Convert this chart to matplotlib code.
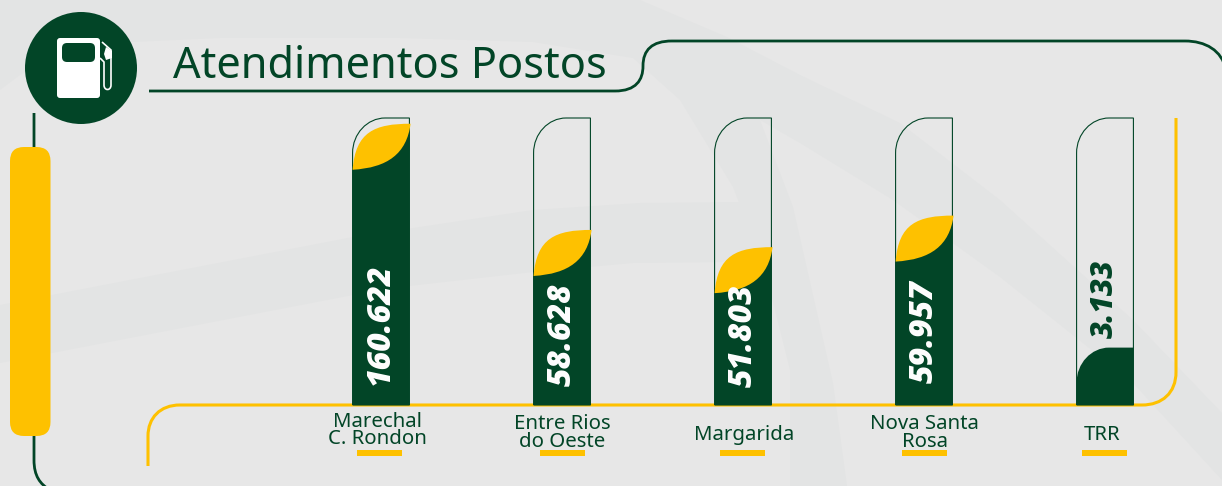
import matplotlib
matplotlib.use('Agg')
import matplotlib.pyplot as plt
from matplotlib.path import Path
from matplotlib.patches import PathPatch, Circle, FancyBboxPatch, Rectangle, Polygon

categories = ['Marechal\nC. Rondon', 'Entre Rios\ndo Oeste', 'Margarida', 'Nova Santa\nRosa', 'TRR']
value_labels = ['160.622', '58.628', '51.803', '59.957', '3.133']
# the tubes are not to scale in the original, so this is % of tube filled
fill_levels = [98, 61, 55, 66, 20]

GREEN = '#024527'
YELLOW = '#fec100'
BG = '#e7e7e7'
SHADE = '#e3e4e4'

M, L, C = Path.MOVETO, Path.LINETO, Path.CURVE4


def shape(ax, pts, codes, **kw):
    p = PathPatch(Path(pts, codes), **kw)
    ax.add_patch(p)
    return p


fig = plt.figure(figsize=(12.22, 4.86), dpi=100, facecolor=BG)

# full figure axes in pixels for the decoration
deco = fig.add_axes([0, 0, 1, 1])
deco.set_xlim(0, 1222)
deco.set_ylim(486, 0)
deco.axis('off')

# background swooshes
swoosh = [(0, 0), (0, 90), (20, 75), (50, 58), (110, 43), (220, 38), (400, 38), (533, 42), (633, 58),
          (680, 100), (733, 187), (765, 270), (790, 370), (790, 486), (847, 486), (833, 383), (793, 207),
          (760, 120), (800, 143), (893, 200), (1000, 277), (1133, 383), (1222, 480), (1222, 413),
          (1133, 320), (1000, 200), (900, 123), (800, 75), (727, 37), (640, 0)]
deco.add_patch(Polygon(swoosh, fc=SHADE, ec='none', zorder=0))
band = [(0, 305), (353, 237), (400, 230), (533, 210), (640, 203), (745, 202), (768, 262), (733, 262),
        (633, 263), (533, 272), (400, 287), (353, 295), (0, 363)]
deco.add_patch(Polygon(band, fc=SHADE, ec='none', zorder=0))

# frame lines
shape(deco, [(149, 91), (615, 91), (636, 91), (643, 80), (643, 66), (643, 50), (652, 41), (672, 41),
             (1185, 41), (1205, 41), (1222, 50), (1226, 70)],
      [M, L, C, C, C, C, C, C, L, C, C, C], fc='none', ec=GREEN, lw=2, zorder=1)
shape(deco, [(34, 113), (34, 460), (34, 476), (40, 484), (50, 490)],
      [M, L, C, C, C], fc='none', ec=GREEN, lw=2, zorder=1)
shape(deco, [(1176, 118), (1176, 372), (1176, 393), (1162, 405), (1142, 405), (180, 405),
             (160, 405), (148, 418), (148, 436), (148, 466)],
      [M, L, C, C, C, L, C, C, C, L], fc='none', ec=YELLOW, lw=2.2, zorder=1)
deco.add_patch(FancyBboxPatch((24, 161), 12.5, 261, boxstyle='round,pad=14,rounding_size=14',
                              fc=YELLOW, ec='none', zorder=2))

# pump icon
deco.add_patch(Circle((81, 68), 56, fc=GREEN, ec='none', zorder=3))
deco.add_patch(FancyBboxPatch((59, 40), 39, 56, boxstyle='round,pad=2,rounding_size=3',
                              fc='white', ec='none', zorder=4))
deco.add_patch(FancyBboxPatch((66, 47), 25, 11, boxstyle='round,pad=4,rounding_size=5',
                              fc=GREEN, ec='none', zorder=5))
shape(deco, [(102, 42), (111, 50), (111, 85), (111, 91), (104, 91), (104, 85), (104, 62), (100, 58)],
      [M, L, L, C, C, C, L, L], fc='none', ec='white', lw=1.2, zorder=4)
deco.add_patch(Polygon([(106, 47), (112, 51), (112, 58), (106, 60), (104, 54)], fc='white', ec='none', zorder=4))

deco.text(173, 78, 'Atendimentos Postos', color=GREEN, fontsize=31.2, family='Noto Sans',
          va='baseline', ha='left', zorder=3)

# underlines below the labels
dash_left = [357, 540, 720, 902, 1082]
for d in dash_left:
    deco.add_patch(Rectangle((d, 450), 45, 6, fc=YELLOW, ec='none', zorder=3))

# chart axes, one unit in x is one category
ax = fig.add_axes([290.5 / 1222, (486 - 405) / 486, 905 / 1222, 287 / 486])
ax.set_xlim(-0.5, 4.5)
ax.set_ylim(0, 100)
ax.axis('off')
ax.patch.set_alpha(0)

half = 0.157
rx, ry = 0.18, 12.2
k = 0.55
ux, uy = 1 / 181, 1 / 2.87  # one picture pixel in data units


def rounded_top(x, top):
    l, r = x - half, x + half
    pts = [(l, 0), (l, top - ry), (l, top - ry + k * ry), (l + rx - k * rx, top), (l + rx, top), (r, top), (r, 0), (l, 0)]
    return pts, [M, L, C, C, C, L, L, L]


label_y = [-8.9, -9.7, -10.4, -9.7, -10.4]
label_dx = [-0.02, 0, 0.005, 0.005, -0.015]
value_dx = [0.0, 0.006, 0.006, 0.006, 0.0]
value_bottom = [6.8, 6.6, 6.3, 7.7, 23.5]
value_size = [23, 23, 23, 23, 21.5]

for i, lev in enumerate(fill_levels):
    l, r = i - half, i + half
    if categories[i] == 'TRR':
        pts, codes = rounded_top(i, lev)
        shape(ax, pts, codes, fc=GREEN, ec='none', zorder=3, clip_on=False)
    else:
        low = lev - 46 * uy
        ax.add_patch(Polygon([(l, 0), (l, low), (r, lev), (r, 0)], fc=GREEN, ec='none', zorder=3))
        # leaf on top of the fill
        leaf = [(0, 46), (3, 8), (22, 0), (58, 0), (54, 30), (35, 44), (0, 46)]
        shape(ax, [(l + a * ux, lev - b * uy) for a, b in leaf], [M, C, C, C, C, C, C],
              fc=YELLOW, ec='none', zorder=5, clip_on=False)
    pts, codes = rounded_top(i, 100)
    shape(ax, pts, codes, fc='none', ec=GREEN, lw=0.8, zorder=4, clip_on=False)
    col = GREEN if categories[i] == 'TRR' else 'white'
    ax.text(i + value_dx[i], value_bottom[i], value_labels[i], rotation=90, color=col, fontsize=value_size[i],
            family='Open Sans', weight='heavy', style='italic', ha='center', va='bottom', zorder=6)
    ax.text(i + label_dx[i], label_y[i], categories[i], color=GREEN, fontsize=14.7, family='Noto Sans',
            ha='center', va='center', linespacing=0.85, clip_on=False)

fig.savefig('out.png', dpi=100, facecolor=BG)
